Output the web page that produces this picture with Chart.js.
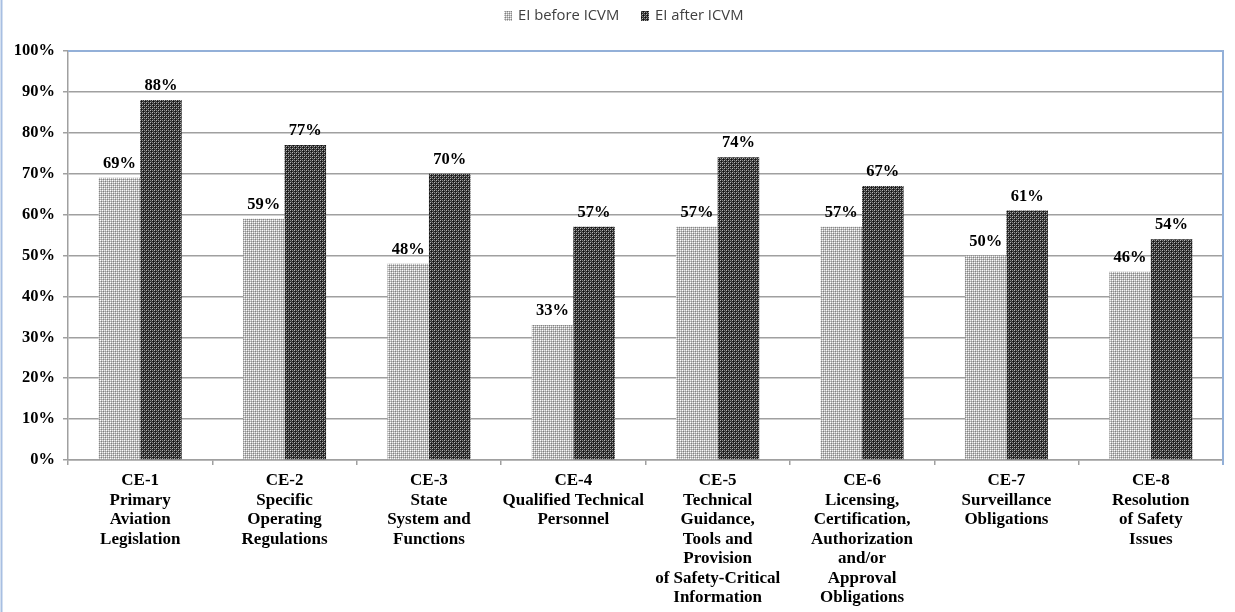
<!DOCTYPE html>
<html>
<head>
<meta charset="utf-8">
<script src="https://cdn.jsdelivr.net/npm/chart.js@4"></script>
<style>
  html, body { margin: 0; padding: 0; background: #fff; }
  #wrap { width: 1235px; height: 612px; position: relative; }
</style>
</head>
<body>
<div id="wrap"><canvas id="c" width="1235" height="612"></canvas></div>
<script>
// Critical elements of the safety oversight system
const categories = [
  ["CE-1", "Primary", "Aviation", "Legislation"],
  ["CE-2", "Specific", "Operating", "Regulations"],
  ["CE-3", "State", "System and", "Functions"],
  ["CE-4", "Qualified Technical", "Personnel"],
  ["CE-5", "Technical", "Guidance,", "Tools and", "Provision", "of Safety-Critical", "Information"],
  ["CE-6", "Licensing,", "Certification,", "Authorization", "and/or", "Approval", "Obligations"],
  ["CE-7", "Surveillance", "Obligations"],
  ["CE-8", "Resolution", "of Safety", "Issues"]
];
const seriesNames = ["EI before ICVM", "EI after ICVM"];
// Effective implementation, percent
const beforeValues = [69, 59, 48, 33, 57, 57, 50, 46];
const afterValues  = [88, 77, 70, 57, 74, 67, 61, 54];
const yTickValues = [0, 10, 20, 30, 40, 50, 60, 70, 80, 90, 100];

// Small dotted tiles used as bar fills
function makePattern(base, dots) {
  const t = document.createElement('canvas');
  t.width = 4; t.height = 4;
  const g = t.getContext('2d');
  g.fillStyle = base;
  g.fillRect(0, 0, 4, 4);
  dots.forEach(([x, y, col]) => { g.fillStyle = col; g.fillRect(x, y, 1, 1); });
  return g.createPattern(t, 'repeat');
}
const ctx = document.getElementById('c').getContext('2d');
const lightFill = makePattern('#bcbcbc', [
  [0, 0, '#ffffff'], [2, 2, '#ffffff'], [0, 2, '#eeeeee'], [2, 0, '#eeeeee'],
  [1, 1, '#808080'], [3, 3, '#808080'], [1, 3, '#949494'], [3, 1, '#949494']
]);
const darkFill = makePattern('#2e2e2e', [
  [0, 0, '#b8b8b8'], [2, 2, '#b8b8b8'], [0, 2, '#8a8a8a'], [2, 0, '#8a8a8a'],
  [1, 1, '#111111'], [3, 3, '#111111'], [1, 3, '#555555'], [3, 1, '#555555']
]);

const serif = "'Liberation Serif', 'Times New Roman', serif";

// Value labels above each bar
const valueLabels = {
  id: 'valueLabels',
  afterDatasetsDraw(chart) {
    const c = chart.ctx;
    c.save();
    c.font = "bold 16.5px " + serif;
    c.fillStyle = '#000';
    c.textAlign = 'center';
    c.textBaseline = 'alphabetic';
    chart.data.datasets.forEach((ds, i) => {
      chart.getDatasetMeta(i).data.forEach((bar, j) => {
        c.fillText(ds.data[j] + '%', bar.x, bar.y - 10);
      });
    });
    c.restore();
  }
};

// Plot-area frame, outer edge line and legend row
const frameAndLegend = {
  id: 'frameAndLegend',
  afterDraw(chart) {
    const c = chart.ctx;
    const a = chart.chartArea;
    c.save();
    c.strokeStyle = '#93b0d8';
    c.lineWidth = 2;
    c.beginPath();
    c.moveTo(a.left, a.top);
    c.lineTo(a.right, a.top);
    c.lineTo(a.right, a.bottom + 5);
    c.stroke();
    c.strokeStyle = '#a8bfe2';
    c.beginPath();
    c.moveTo(1.5, 0);
    c.lineTo(1.5, chart.height);
    c.stroke();

    c.font = "14.8px 'Open Sans', 'Liberation Sans', sans-serif";
    c.textBaseline = 'middle';
    const items = [
      { box: 504, text: 518, fill: lightFill, label: seriesNames[0] },
      { box: 641, text: 655, fill: darkFill, label: seriesNames[1] }
    ];
    items.forEach(it => {
      c.fillStyle = it.fill;
      c.fillRect(it.box, 11, 8, 10);
      c.fillStyle = '#404040';
      c.fillText(it.label, it.text, 16);
    });
    c.restore();
  }
};

new Chart(ctx, {
  type: 'bar',
  data: {
    labels: categories,
    datasets: [
      { label: seriesNames[0], data: beforeValues, backgroundColor: lightFill, borderWidth: 0 },
      { label: seriesNames[1], data: afterValues, backgroundColor: darkFill, borderWidth: 0 }
    ]
  },
  options: {
    responsive: false,
    animation: false,
    devicePixelRatio: 1,
    layout: { padding: { top: 51, right: 12, left: 0, bottom: 0 } },
    datasets: { bar: { categoryPercentage: 0.575, barPercentage: 1.0 } },
    plugins: {
      legend: { display: false },
      tooltip: { enabled: false },
      title: { display: false }
    },
    scales: {
      x: {
        afterFit(s) { s.height = 152; },
        grid: { drawOnChartArea: false, drawTicks: true, tickLength: 5, offset: true, color: '#a0a0a0', lineWidth: 1.5 },
        border: { color: '#a0a0a0', width: 1.5 },
        ticks: {
          autoSkip: false, maxRotation: 0, minRotation: 0, padding: 6,
          color: '#000',
          font: { family: serif, size: 17, weight: 'bold', lineHeight: '19.5px' }
        }
      },
      y: {
        min: 0, max: 100,
        afterFit(s) { s.width = 68; },
        afterBuildTicks(s) { s.ticks = yTickValues.map(v => ({ value: v })); },
        grid: { color: '#a0a0a0', lineWidth: 1.5, tickLength: 5 },
        border: { color: '#a0a0a0', width: 1.5 },
        ticks: {
          padding: 8, color: '#000',
          font: { family: serif, size: 16.5, weight: 'bold' },
          callback: v => v + '%'
        }
      }
    }
  },
  plugins: [valueLabels, frameAndLegend]
});
</script>
</body>
</html>
